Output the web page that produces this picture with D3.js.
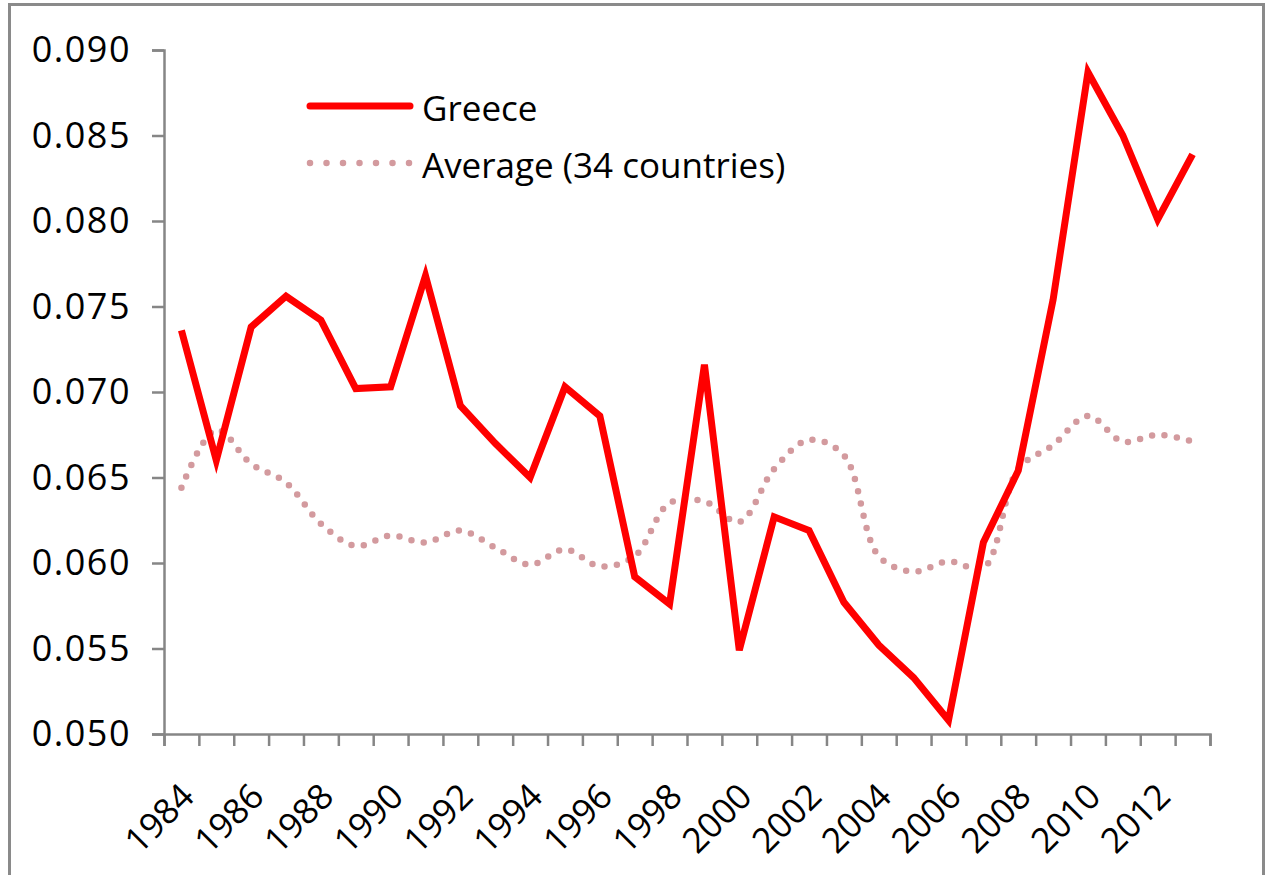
<!DOCTYPE html>
<html>
<head>
<meta charset="utf-8">
<script src="https://cdn.jsdelivr.net/npm/d3@7"></script>
<style>
  html, body { margin: 0; padding: 0; background: #ffffff; }
  svg { display: block; }
  text { font-family: "Open Sans", "Noto Sans", sans-serif; fill: #000; }
</style>
</head>
<body>
<svg id="chart" width="1268" height="875"></svg>
<script>
// ---- data ----
const years = d3.range(1984, 2014);
const greece = [0.0736, 0.0660, 0.0738, 0.0756, 0.0742, 0.0702, 0.0703, 0.0768, 0.0692, 0.0670,
                0.0650, 0.0703, 0.0686, 0.0592, 0.0576, 0.0716, 0.0549, 0.0627, 0.0619, 0.0577,
                0.0552, 0.0533, 0.0508, 0.0612, 0.0654, 0.0754, 0.0887, 0.0850, 0.0801, 0.0839];
const average = [0.0644, 0.0678, 0.0658, 0.0647, 0.0623, 0.0610, 0.0616, 0.0612, 0.0619, 0.0609,
                 0.0599, 0.0608, 0.0598, 0.0604, 0.0635, 0.0636, 0.0624, 0.0655, 0.0672, 0.0663,
                 0.0604, 0.0595, 0.0601, 0.0597, 0.0655, 0.0669, 0.0686, 0.0671, 0.0675, 0.0671];
const yTicks = [0.050, 0.055, 0.060, 0.065, 0.070, 0.075, 0.080, 0.085, 0.090];
const yearLabels = d3.range(1984, 2014, 2);
const seriesNames = ["Greece", "Average (34 countries)"];

// ---- layout ----
const svg = d3.select("#chart");
const plotL = 164, plotR = 1210, plotT = 50, plotB = 734;

// frame
svg.append("rect")
  .attr("x", 9.5).attr("y", 4.5).attr("width", 1254).attr("height", 890)
  .attr("fill", "#fff").attr("stroke", "#8a8a8a").attr("stroke-width", 3);

const x = d3.scaleBand().domain(years).range([plotL, plotR]).padding(0);
const xEdge = d3.scaleLinear().domain([0, years.length]).range([plotL, plotR]);
const y = d3.scaleLinear().domain([0.050, 0.090]).range([plotB, plotT]);
const cx = d => x(d) + x.bandwidth() / 2;

// y axis
const yAxis = svg.append("g").attr("transform", `translate(${plotL},0)`)
  .call(d3.axisLeft(y).tickValues(yTicks).tickFormat(d3.format(".3f")).tickSize(12).tickPadding(21));
yAxis.select(".domain").attr("stroke", "#868686").attr("stroke-width", 2.5);
yAxis.selectAll(".tick line").attr("stroke", "#868686").attr("stroke-width", 2.5);
yAxis.selectAll(".tick text").attr("font-size", 36).attr("font-family", "Open Sans")
  .attr("letter-spacing", 1.5).attr("fill", "#000");

// x axis (tick marks between categories)
const xAxis = svg.append("g").attr("transform", `translate(0,${plotB})`)
  .call(d3.axisBottom(xEdge).tickValues(d3.range(0, years.length + 1)).tickFormat("").tickSizeOuter(0).tickSize(12));
xAxis.select(".domain").attr("stroke", "#868686").attr("stroke-width", 2.5);
xAxis.selectAll(".tick line").attr("stroke", "#868686").attr("stroke-width", 2.5);

// year labels
svg.append("g").selectAll("text").data(yearLabels).join("text")
  .attr("transform", d => `translate(${cx(d) + 6},${plotB + 56}) rotate(-45)`)
  .attr("text-anchor", "end")
  .attr("dy", "0.35em")
  .attr("font-size", 35)
  .text(d => d);

// lines
const avgLine = d3.line().x((d, i) => cx(years[i])).y(d => y(d)).curve(d3.curveCatmullRom.alpha(0.5));
svg.append("path").datum(average)
  .attr("d", avgLine)
  .attr("fill", "none").attr("stroke", "#d39a9e").attr("stroke-width", 6.5)
  .attr("stroke-linecap", "round").attr("stroke-dasharray", "0 12.5");

const grLine = d3.line().x((d, i) => cx(years[i])).y(d => y(d));
svg.append("path").datum(greece)
  .attr("d", grLine)
  .attr("fill", "none").attr("stroke", "#ff0000").attr("stroke-width", 7)
  .attr("stroke-linejoin", "miter");

// legend
const lg = svg.append("g");
lg.append("line").attr("x1", 310).attr("x2", 410).attr("y1", 106).attr("y2", 106)
  .attr("stroke", "#ff0000").attr("stroke-width", 7).attr("stroke-linecap", "round");
lg.append("line").attr("x1", 310).attr("x2", 412).attr("y1", 163).attr("y2", 163)
  .attr("stroke", "#d39a9e").attr("stroke-width", 6.5).attr("stroke-linecap", "round")
  .attr("stroke-dasharray", "0 16.5");
lg.append("text").attr("x", 422).attr("y", 121).attr("font-size", 35).text(seriesNames[0]);
lg.append("text").attr("x", 422).attr("y", 178).attr("font-size", 35).text(seriesNames[1]);
</script>
</body>
</html>
